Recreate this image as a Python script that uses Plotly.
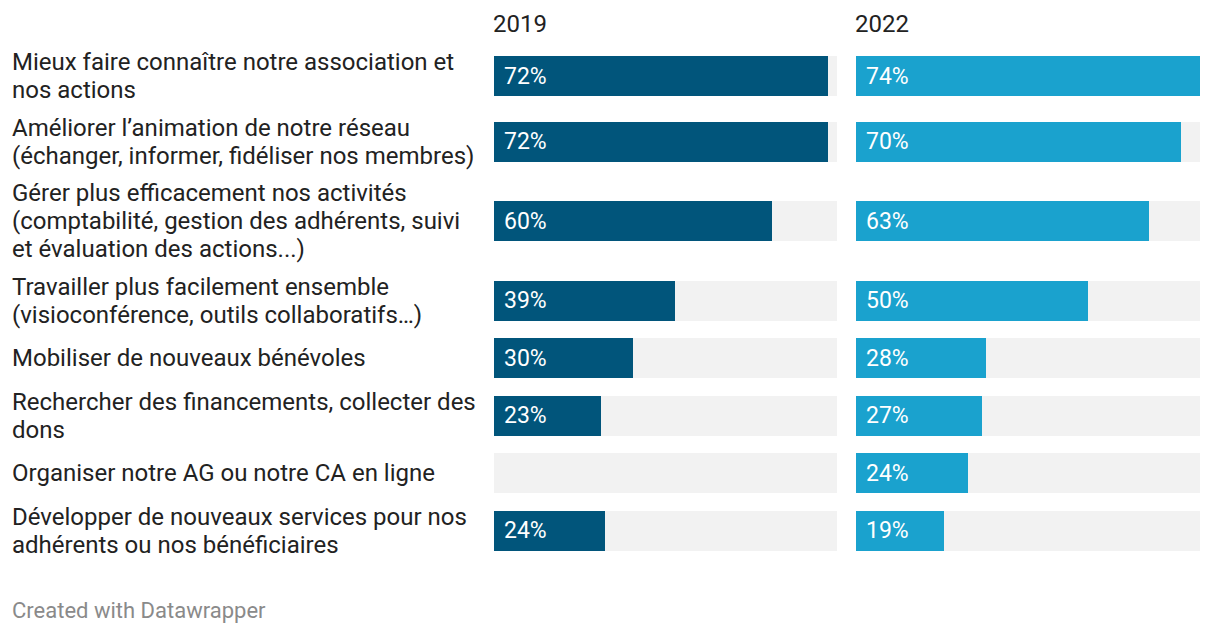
import plotly.graph_objects as go

categories = [
    ["Mieux faire connaître notre association et", "nos actions"],
    ["Améliorer l’animation de notre réseau", "(échanger, informer, fidéliser nos membres)"],
    ["Gérer plus efficacement nos activités", "(comptabilité, gestion des adhérents, suivi", "et évaluation des actions...)"],
    ["Travailler plus facilement ensemble", "(visioconférence, outils collaboratifs…)"],
    ["Mobiliser de nouveaux bénévoles"],
    ["Rechercher des financements, collecter des", "dons"],
    ["Organiser notre AG ou notre CA en ligne"],
    ["Développer de nouveaux services pour nos", "adhérents ou nos bénéficiaires"],
]
years = ["2019", "2022"]
values_2019 = [72, 72, 60, 39, 30, 23, None, 24]
values_2022 = [74, 70, 63, 50, 28, 27, 24, 19]

W, H = 1220, 636
LINE_H = 28
BAR_H = 40
GAP = 9.5
TOP = 48

# row centers (pixel units) from label line counts
centers = []
cur = TOP
for lines in categories:
    h = max(BAR_H, len(lines) * LINE_H)
    centers.append(cur + h / 2)
    cur += h + GAP

xmax = max(v for v in values_2019 + values_2022 if v is not None)
colors = {"2019": "#01557b", "2022": "#1aa2ce"}
series = {"2019": values_2019, "2022": values_2022}
axes = {"2019": "x", "2022": "x2"}
domains = {"2019": [494 / W, 837 / W], "2022": [856 / W, 1200 / W]}

fig = go.Figure()
annotations = []
pct_font = dict(family="Roboto", size=23, color="white")

for yr in years:
    xa = axes[yr]
    fig.add_trace(go.Bar(
        y=centers, x=[xmax] * len(centers), orientation="h", width=BAR_H,
        marker=dict(color="#f2f2f2", line=dict(width=0)), xaxis=xa, yaxis="y",
        hoverinfo="skip", showlegend=False))
    vals = series[yr]
    fig.add_trace(go.Bar(
        y=centers, x=vals, orientation="h", width=BAR_H,
        marker=dict(color=colors[yr], line=dict(width=0)), xaxis=xa, yaxis="y",
        showlegend=False, name=yr))
    for c, v in zip(centers, vals):
        if v is None:
            continue
        annotations.append(dict(
            x=0, y=c, xref=xa, yref="y", text=f"{v}%", showarrow=False,
            xanchor="left", yanchor="middle", xshift=8, font=pct_font))
    annotations.append(dict(
        x=0, y=24, xref=xa, yref="y", text=yr, showarrow=False,
        xanchor="left", yanchor="middle", xshift=-3,
        font=dict(family="Roboto", size=24, color="#222222")))

label_font = dict(family="Roboto", size=24, color="#222222")
for c, lines in zip(centers, categories):
    n = len(lines)
    for i, line in enumerate(lines):
        yy = c + (i - (n - 1) / 2) * LINE_H
        annotations.append(dict(
            x=10 / W, y=yy, xref="paper", yref="y", text=line, showarrow=False,
            xanchor="left", yanchor="middle", font=label_font))

annotations.append(dict(
    x=10 / W, y=610, xref="paper", yref="y", text="Created with Datawrapper",
    showarrow=False, xanchor="left", yanchor="middle",
    font=dict(family="Roboto", size=22, color="#8a8a8a")))

fig.update_layout(
    width=W, height=H, margin=dict(l=0, r=0, t=0, b=0),
    paper_bgcolor="white", plot_bgcolor="white",
    barmode="overlay", bargap=0,
    xaxis=dict(domain=domains["2019"], range=[0, xmax], visible=False, fixedrange=True),
    xaxis2=dict(domain=domains["2022"], range=[0, xmax], visible=False, fixedrange=True),
    yaxis=dict(range=[H, 0], domain=[0, 1], visible=False, fixedrange=True),
    annotations=annotations,
)

fig.write_html("out.html", config={"displayModeBar": False},
               post_script="document.body.style.margin='0';document.body.style.overflow='hidden';")
